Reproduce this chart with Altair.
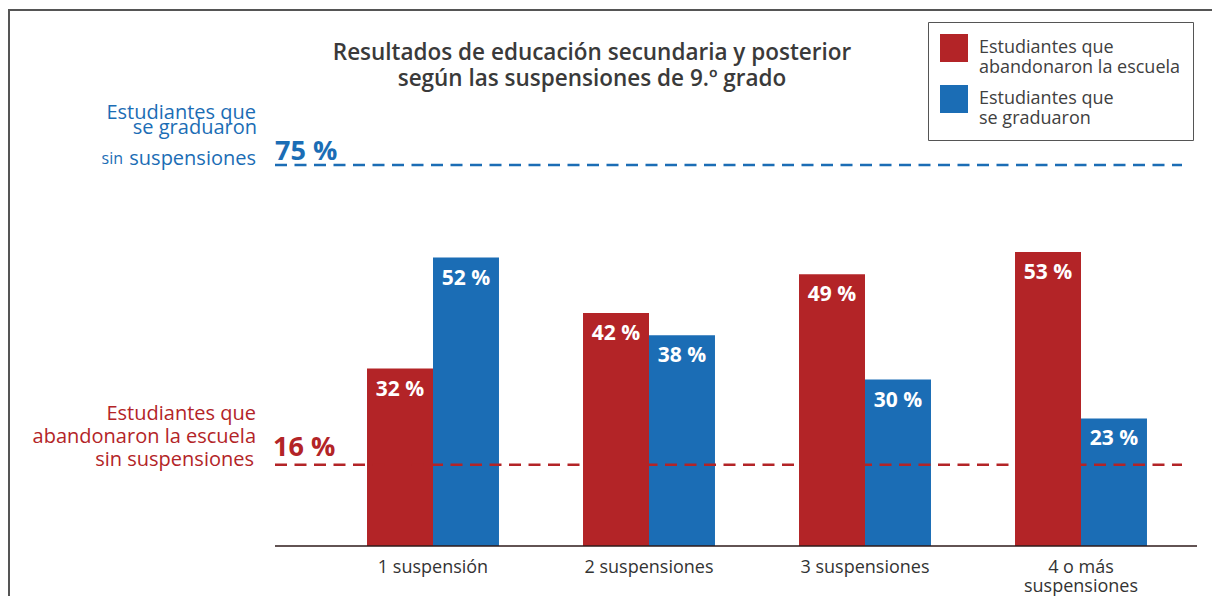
import altair as alt
import pandas as pd

# ---------------- data ----------------
categorias = ["1 suspensión", "2 suspensiones", "3 suspensiones", "4 o más suspensiones"]
series = ["Estudiantes que abandonaron la escuela", "Estudiantes que se graduaron"]
abandonaron = [32, 42, 49, 53]
graduaron = [52, 38, 30, 23]
ref_graduaron_sin = 75   # graduaron sin suspensiones
ref_abandonaron_sin = 16  # abandonaron sin suspensiones

titulo = ["Resultados de educación secundaria y posterior",
          "según las suspensiones de 9.º grado"]

RED = "#b32427"
BLUE = "#1b6db5"
FONT = "Open Sans"

rows = []
for c, a, g in zip(categorias, abandonaron, graduaron):
    rows.append({"categoria": c, "serie": series[0], "valor": a})
    rows.append({"categoria": c, "serie": series[1], "valor": g})
df = pd.DataFrame(rows)

ref_df = pd.DataFrame({"valor": [ref_graduaron_sin, ref_abandonaron_sin],
                       "serie": [series[1], series[0]]})

W, H = 922, 416

# ---------------- bars ----------------
x_enc = alt.X(
    "categoria:N", sort=categorias,
    scale=alt.Scale(range=[50, 914], paddingInner=0.389, paddingOuter=0.1945),
    axis=alt.Axis(title=None, domain=False, ticks=False, labelAngle=0,
                  labelFont=FONT, labelFontSize=18, labelColor="#333333",
                  labelPadding=12, labelLineHeight=19,
                  labelExpr="datum.label == '4 o más suspensiones' ? ['4 o más', 'suspensiones'] : datum.label"),
)
xo_enc = alt.XOffset("serie:N", sort=series)
y_enc = alt.Y("valor:Q", scale=alt.Scale(domain=[0, 75], nice=False), axis=None)

bars = alt.Chart(df).mark_bar().encode(
    x=x_enc, xOffset=xo_enc, y=y_enc,
    color=alt.Color(
        "serie:N", sort=series,
        scale=alt.Scale(domain=series, range=[RED, BLUE]),
        legend=alt.Legend(
            title=None, orient="none", legendX=653, legendY=-108,
            direction="vertical", symbolType="square", symbolSize=784,
            symbolStrokeWidth=0, symbolOpacity=1,
            labelFont=FONT, labelFontSize=18, labelColor="#404040",
            labelOffset=11, labelLimit=400, rowPadding=8, padding=12,
            strokeColor="#555555", fillColor="white",
            labelExpr="datum.label == 'Estudiantes que abandonaron la escuela' ? ['Estudiantes que', 'abandonaron la escuela'] : ['Estudiantes que', 'se graduaron']",
        ),
    ),
)

bar_labels = alt.Chart(df).transform_calculate(
    etiqueta="datum.valor + ' %'"
).mark_text(
    font=FONT, fontSize=21, fontWeight="bold", color="white",
    baseline="alphabetic", align="center", dy=27,
).encode(x=x_enc, xOffset=xo_enc, y=y_enc, text="etiqueta:N")

axis_line = alt.Chart(alt.Data(values=[{}])).mark_rule(
    color="#2e1a1a", strokeWidth=1.5
).encode(y=alt.datum(0), x=alt.value(0), x2=alt.value(W))

bar_group = alt.layer(bars, bar_labels, axis_line)

# ---------------- reference lines and annotations ----------------
ry = alt.Scale(domain=[0, 81.9], nice=False)

ref_rules = alt.Chart(ref_df).mark_rule(strokeWidth=2.5, strokeDash=[12, 7.5]).encode(
    y=alt.Y("valor:Q", scale=ry, axis=None),
    x=alt.value(0), x2=alt.value(907),
    color=alt.Color("serie:N", scale=alt.Scale(domain=series, range=[RED, BLUE]), legend=None),
)


def note(value, text, color, x, dy, size=20, weight="normal", align="right"):
    return alt.Chart(alt.Data(values=[{}])).mark_text(
        font=FONT, fontSize=size, fontWeight=weight, color=color,
        align=align, baseline="alphabetic", dy=dy,
    ).encode(y=alt.Y(datum=value, scale=ry, axis=None), x=alt.value(x), text=alt.value(text))


notes = [
    note(ref_graduaron_sin, f"{ref_graduaron_sin} %", BLUE, 0, -5, size=27, weight="bold", align="left"),
    note(ref_graduaron_sin, "Estudiantes que", BLUE, -19, -46),
    note(ref_graduaron_sin, "se graduaron", BLUE, -18, -31),
    note(ref_graduaron_sin, "sin", BLUE, -152, -1, size=16),
    note(ref_graduaron_sin, "suspensiones", BLUE, -19, 0),
    note(ref_abandonaron_sin, f"{ref_abandonaron_sin} %", RED, -2, -9, size=27, weight="bold", align="left"),
    note(ref_abandonaron_sin, "Estudiantes que", RED, -19, -45),
    note(ref_abandonaron_sin, "abandonaron la escuela", RED, -19, -22),
    note(ref_abandonaron_sin, "sin suspensiones", RED, -21, 1),
]

ref_group = alt.layer(ref_rules, *notes)

# ---------------- title and frame ----------------
def title_line(text, y):
    return alt.Chart(alt.Data(values=[{}])).mark_text(
        font=FONT, fontSize=22.5, fontWeight=600, color="#3a3a3a",
        align="center", baseline="alphabetic",
    ).encode(x=alt.value(317), y=alt.value(y), text=alt.value(text))


title_group = alt.layer(title_line(titulo[0], -70), title_line(titulo[1], -44))

frame_left = alt.Chart(alt.Data(values=[{}])).mark_rule(color="#555555", strokeWidth=2).encode(
    x=alt.value(-266), y=alt.value(-120), y2=alt.value(480))
frame_top = alt.Chart(alt.Data(values=[{}])).mark_rule(color="#555555", strokeWidth=2).encode(
    x=alt.value(-267), x2=alt.value(960), y=alt.value(-120))

chart = alt.layer(
    bar_group, ref_group, title_group, frame_left, frame_top
).resolve_scale(y="independent", color="independent").properties(
    width=W, height=H,
    autosize=alt.AutoSizeParams(type="none"),
    padding={"left": 267, "top": 122, "right": 15, "bottom": 50},
).configure_view(stroke=None)

chart.save("out.html", embed_options={"renderer": "svg", "actions": False})
